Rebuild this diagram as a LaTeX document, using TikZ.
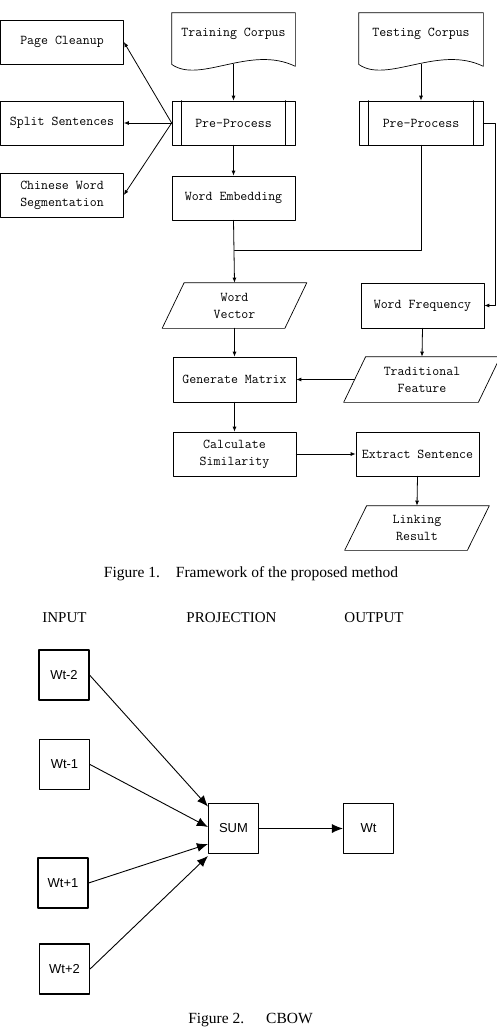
\documentclass[tikz,border=0pt]{standalone}
\usepackage{fontspec}
\setmainfont{Liberation Serif}
\newfontfamily\cbowfont{Liberation Sans}
\usetikzlibrary{calc,positioning,arrows.meta}
% document with a wavy lower edge
\newcommand\docwave[1]{\draw[line width=0.7pt] (#1.north west) -- (#1.north east) -- ([yshift=-11pt]#1.south east)
  .. controls ([xshift=-45pt,yshift=11pt]#1.south east) and ([xshift=28pt,yshift=-29pt]#1.south west) .. ([yshift=-9pt]#1.south west) -- cycle;}
% predefined process: two inner bars
\newcommand\predef[1]{\draw[line width=0.7pt] ([xshift=10pt]#1.north west) -- ([xshift=10pt]#1.south west)
  ([xshift=-10pt]#1.north east) -- ([xshift=-10pt]#1.south east);}
% data: parallelogram
\newcommand\slantbox[1]{\draw[line width=0.7pt] ([xshift=11pt]#1.north west) -- ([xshift=11pt]#1.north east)
  -- ([xshift=-11pt]#1.south east) -- ([xshift=-11pt]#1.south west) -- cycle;}

\begin{document}
\begin{tikzpicture}[x=1pt,y=-1pt,line cap=round,line join=round,
  box/.style={draw,line width=0.7pt,minimum width=123pt,minimum height=44pt,inner sep=0pt,
    align=center,font=\ttfamily\fontsize{13.5}{17}\selectfont},
  arr/.style={-{Latex[length=5pt,width=4pt]},line width=0.8pt},
  cbox/.style={draw,line width=1.1pt,minimum size=50pt,inner sep=0pt,font=\cbowfont\fontsize{13}{15}\selectfont},
  bigarr/.style={-{Latex[length=11pt,width=9pt]},line width=0.9pt},
  head/.style={font=\fontsize{15}{17}\selectfont,anchor=base},
  caption/.style={font=\fontsize{15.5}{18}\selectfont,anchor=base}]
  \useasboundingbox (0,0) rectangle (496,1028);

  % Figure 1
  \node[box] (pc) at (62,42) {Page Cleanup};
  \node[box] (ss) at (62,123) {Split Sentences};
  \node[box] (cws) at (62,195) {Chinese Word\\Segmentation};

  \node[box,draw=none,minimum height=42pt] (tc) at (233.5,34) {Training Corpus};
  \docwave{tc}
  \node[box] (pp1) at (233.5,123) {Pre-Process};
  \predef{pp1}
  \node[box] (we) at (233.5,198) {Word Embedding};

  \node[box,draw=none,minimum width=124pt,minimum height=42pt] (ts) at (421,34) {Testing Corpus};
  \docwave{ts}
  \node[box,minimum width=124pt] (pp2) at (421,123) {Pre-Process};
  \predef{pp2}

  \node[box,draw=none,minimum width=122pt,minimum height=45pt] (wv) at (234.5,305.5) {Word\\Vector};
  \slantbox{wv}
  \node[box,minimum height=45pt] (wfq) at (422.5,305.5) {Word Frequency};
  \node[box,draw=none,minimum width=134pt,minimum height=45pt] (tf) at (422,379.5) {Traditional\\Feature};
  \slantbox{tf}
  \node[box,minimum height=45pt] (gm) at (234.5,379.5) {Generate Matrix};
  \node[box] (cs) at (234.5,454) {Calculate\\Similarity};
  \node[box] (es) at (417.5,454) {Extract Sentence};
  \node[box,draw=none,minimum width=122pt] (lr) at (417,528) {Linking\\Result};
  \slantbox{lr}

  \coordinate (mrg) at (234.5,250);
  \draw[arr] ([yshift=-9pt]tc.south) -- (pp1.north);
  \draw[arr] ([yshift=-9pt]ts.south) -- (pp2.north);
  \draw[arr] (pp1.west) -- (pc.east);
  \draw[arr] (pp1.west) -- (ss.east);
  \draw[arr] (pp1.west) -- (cws.east);
  \draw[arr] (pp1.south) -- (we.north);
  \draw[line width=0.8pt] (pp2.south) |- (mrg);
  \draw[arr] (we.south) -- (wv.north);
  \draw[arr] (pp2.east) -- ++(12,0) |- (wfq.east);
  \draw[arr] (wfq.south) -- (tf.north);
  \draw[arr] (tf.west) -- (gm.east);
  \draw[arr] (wv.south) -- (gm.north);
  \draw[arr] (gm.south) -- (cs.north);
  \draw[arr] (cs.east) -- (es.west);
  \draw[arr] (es.south) -- (lr.north);

  \node[caption] (cap1) at (251,577) {Figure 1.\hspace{16pt}Framework of the proposed method};

  % Figure 2
  \node[head] (hin) at (64.5,622) {INPUT};
  \node[head] (hproj) at (231.5,622) {PROJECTION};
  \node[head] (hout) at (374,622) {OUTPUT};

  \node[cbox] (wm2) at (64,675) {Wt-2};
  \node[cbox] (wm1) at (64.5,764.5) {Wt-1};
  \node[cbox] (wp1) at (63,883) {Wt+1};
  \node[cbox] (wp2) at (64.5,969) {Wt+2};
  \node[cbox] (sum) at (233.5,828.5) {SUM};
  \node[cbox] (wt) at (368.5,828.5) {Wt};

  \draw[bigarr] (wm2.east) -- ([yshift=22pt]sum.west);
  \draw[bigarr] (wm1.east) -- ([yshift=1.5pt]sum.west);
  \draw[bigarr] (wp1.east) -- ([yshift=-15.5pt]sum.west);
  \draw[bigarr] (wp2.east) -- ([yshift=-27.5pt]sum.west);
  \draw[bigarr] (sum.east) -- (wt.west);

  \node[caption] (cap2) at (250.5,1023) {Figure 2.\hspace{22pt}CBOW};
\end{tikzpicture}
\end{document}
